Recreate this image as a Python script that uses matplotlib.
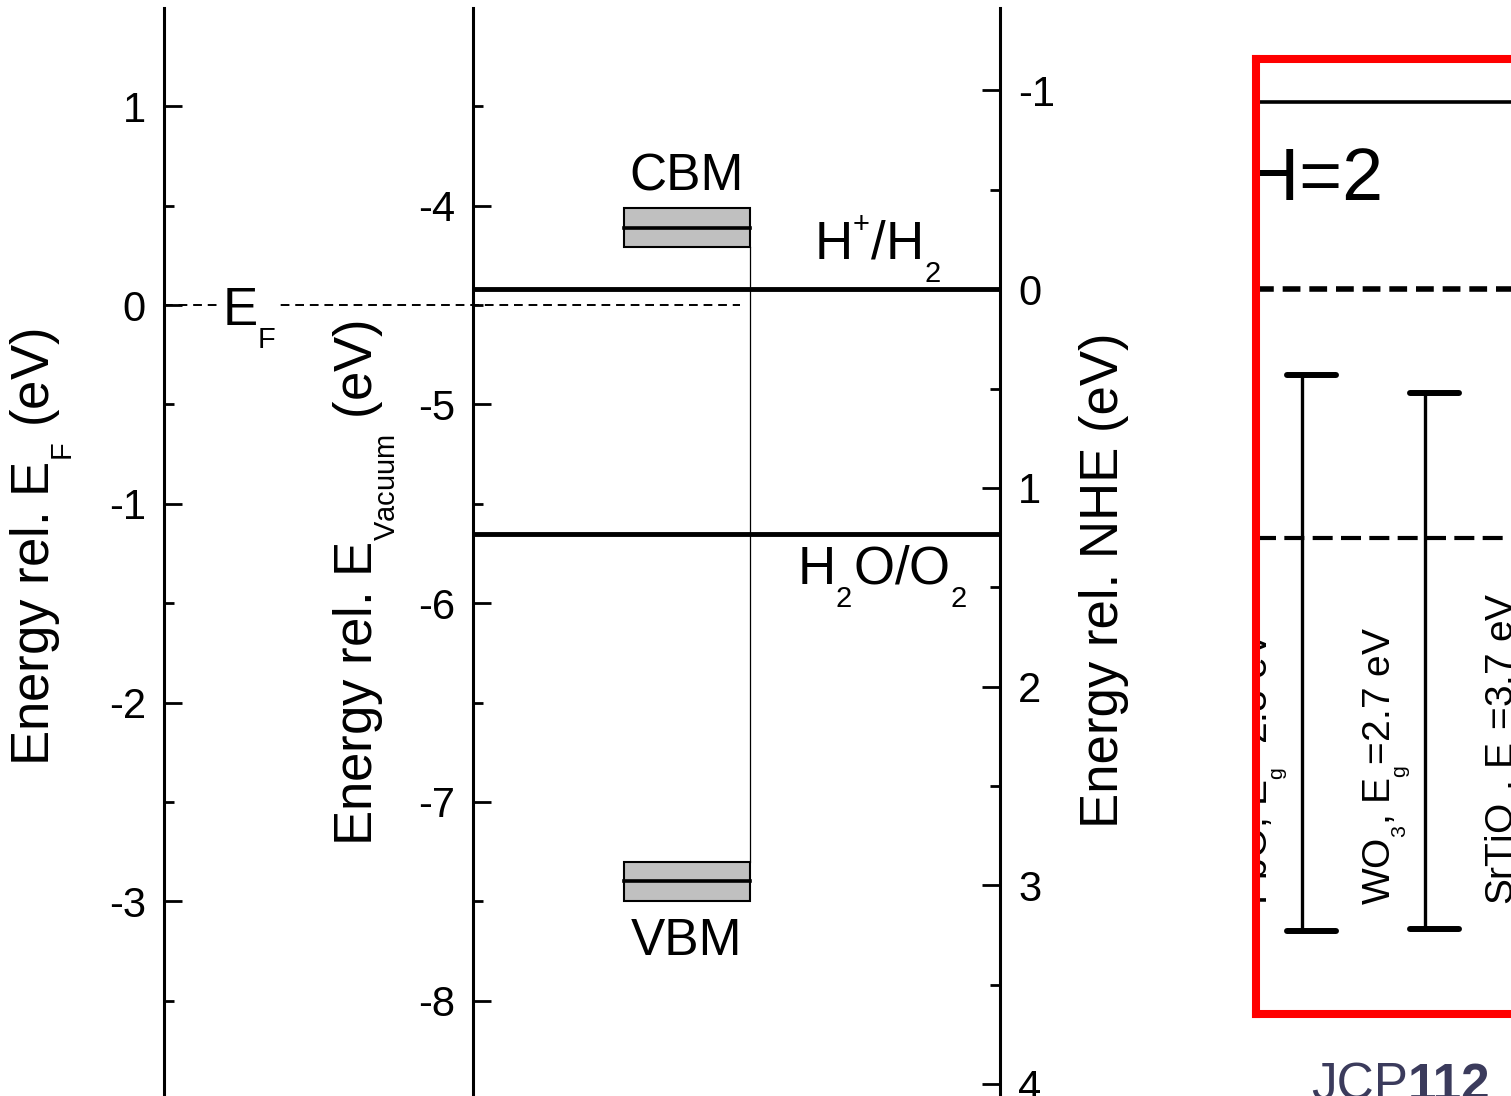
import matplotlib
matplotlib.use("Agg")
import matplotlib.pyplot as plt
import matplotlib._mathtext as mathtext_impl
from matplotlib.patches import Rectangle
from matplotlib.ticker import MultipleLocator

plt.rcParams['font.family'] = ['Liberation Sans', 'DejaVu Sans']
plt.rcParams['mathtext.fontset'] = 'custom'
plt.rcParams['mathtext.rm'] = 'Liberation Sans'
plt.rcParams['axes.unicode_minus'] = False

# smaller, lower subscripts (Origin style)
mathtext_impl.SHRINK_FACTOR = 0.55
mathtext_impl.FontConstantsBase.sub1 = 0.8
mathtext_impl.FontConstantsBase.sup1 = 0.9

# band edges relative to E_F (eV) and the spread drawn around them
cbm = 0.39
vbm = -2.90
band_spread = 0.10

# reference scales
fermi_vs_vacuum = -4.5   # E_F on the vacuum scale
nhe_vs_vacuum = -4.42    # 0 V NHE on the vacuum scale
redox_levels = [0.0, 1.23]   # vs NHE
redox_labels = ['H$^\\mathregular{+}$/H$_\\mathregular{2}$',
                'H$_\\mathregular{2}$O/O$_\\mathregular{2}$']

# energy window of the E_F axis
ef_range = (-3.98, 1.495)

# inset: literature band positions vs NHE
ref_labels = ['PbO, E$_\\mathregular{g}$=2.8 eV',
              'WO$_\\mathregular{3}$, E$_\\mathregular{g}$=2.7 eV',
              'SrTiO$_\\mathregular{3}$, E$_\\mathregular{g}$=3.7 eV']
ref_cb = [0.43, 0.52]
ref_gap = [2.8, 2.7]
inset_levels = [-0.94, 0.0, 1.25]

W, H = 1511, 1096
fig = plt.figure(figsize=(W / 100, H / 100), dpi=100)


def px_box(x0, y0, x1, y1):
    return [x0 / W, 1 - y1 / H, (x1 - x0) / W, (y1 - y0) / H]


# layout of the main diagram (fractions of the axes width)
X_VAC = 0.370
BOX_L, BOX_R = 0.550, 0.701
EF_END = 0.689

ax = fig.add_axes(px_box(164, 8, 1000, 1096))
ax.set_xlim(0, 1)
ax.set_ylim(ef_range)
ax.set_xticks([])
for s in ['top', 'bottom', 'right']:
    ax.spines[s].set_visible(False)

vac_range = (ef_range[0] + fermi_vs_vacuum, ef_range[1] + fermi_vs_vacuum)
nhe_range = (nhe_vs_vacuum - vac_range[0], nhe_vs_vacuum - vac_range[1])

ax_vac = ax.twinx()
ax_vac.set_ylim(vac_range)
ax_vac.yaxis.tick_left()
ax_vac.spines['left'].set_position(('axes', X_VAC))
for s in ['top', 'bottom', 'right']:
    ax_vac.spines[s].set_visible(False)

ax_nhe = ax.twinx()
ax_nhe.set_ylim(nhe_range)
for s in ['top', 'bottom', 'left']:
    ax_nhe.spines[s].set_visible(False)

for a in (ax, ax_vac, ax_nhe):
    a.yaxis.set_major_locator(MultipleLocator(1))
    a.yaxis.set_minor_locator(MultipleLocator(0.5))
    a.tick_params(axis='y', which='major', direction='in', length=13,
                  width=2, labelsize=30, pad=13)
    a.tick_params(axis='y', which='minor', direction='in', length=7, width=2)
    for sp in a.spines.values():
        sp.set_linewidth(2.2)

# Fermi level
ax.plot([0, EF_END], [0, 0], color='k', lw=1.4, dashes=(4.5, 3.0))
ax.text(0.069, -0.104, 'E$_\\mathregular{F}$', fontsize=38, ha='left',
        va='baseline', bbox=dict(fc='white', ec='none', pad=0), zorder=4)

# band edges
for e in (cbm, vbm):
    ax.add_patch(Rectangle((BOX_L, e - band_spread), BOX_R - BOX_L,
                           2 * band_spread, fc='#c0c0c0', ec='k', lw=1.5,
                           zorder=3))
    ax.plot([BOX_L, BOX_R], [e, e], color='k', lw=2.6, zorder=4)
ax.plot([BOX_R, BOX_R], [vbm + band_spread, cbm - band_spread],
        color='k', lw=0.9)
box_mid = (BOX_L + BOX_R) / 2
ax.text(box_mid, cbm + 0.186, 'CBM', fontsize=37, ha='center', va='baseline')
ax.text(box_mid, vbm - 0.37, 'VBM', fontsize=37, ha='center', va='baseline')

# water redox levels
ax_nhe.hlines(redox_levels, X_VAC, 1, color='k', lw=3.5)
ax_nhe.text(0.778, redox_levels[0] - 0.146, redox_labels[0], fontsize=38,
            ha='left', va='baseline')
ax_nhe.text(0.757, redox_levels[1] + 0.26, redox_labels[1], fontsize=38,
            ha='left', va='baseline')

# axis titles
fig.text(42 / W, 1 - 547 / H, 'Energy rel. E$_\\mathregular{F}$ (eV)',
         rotation=90, fontsize=38, ha='center', va='center')
fig.text(364 / W, 1 - 583 / H,
         'Energy rel. E$_\\mathregular{Vacuum}$ (eV)',
         rotation=90, fontsize=38, ha='center', va='center')
fig.text(1104 / W, 1 - 580 / H, 'Energy rel. NHE (eV)',
         rotation=90, fontsize=38, ha='center', va='center')


# inset on the same NHE scale
def nhe_at(py):
    return nhe_range[1] + (py - 8) / (1096 - 8) * (nhe_range[0] - nhe_range[1])


axi = fig.add_axes(px_box(1256, 59, 1700, 1014))
axi.set_xlim(0.626, 4.236)
axi.set_ylim(nhe_at(1014), nhe_at(59))
axi.set_xticks([])
axi.set_yticks([])
for sp in axi.spines.values():
    sp.set_color('#ff0000')
    sp.set_linewidth(5.8)

axi.axhline(inset_levels[0], color='k', lw=2.6)
axi.axhline(inset_levels[1], color='k', lw=4, dashes=(3.2, 1.6))
axi.axhline(inset_levels[2], color='k', lw=3, dashes=(4.8, 2.0))

for i, (cb, eg) in enumerate(zip(ref_cb, ref_gap)):
    x = i + 1
    axi.plot([x, x], [cb, cb + eg], color='k', lw=2.4)
    for e in (cb, cb + eg):
        axi.plot([x - 0.12, x + 0.28], [e, e], color='k', lw=4.3,
                 solid_capstyle='round')

for i, lab in enumerate(ref_labels):
    axi.text(i + 1 - 0.28, 3.1, lab, rotation=90, rotation_mode='anchor',
             ha='left', va='baseline', fontsize=28, clip_on=True, zorder=2)

axi.text(1.659, -0.45, 'pH=2', fontsize=53, ha='right', va='baseline',
         clip_on=True, zorder=2)

fig.text(1408 / W, 1 - 1100 / H, 'JCP', fontsize=37, color='#3b3b5c',
         ha='right', va='baseline')
fig.text(1408 / W, 1 - 1100 / H, '112', fontsize=37, color='#3b3b5c',
         fontweight='bold', ha='left', va='baseline')

fig.savefig('out.png', dpi=100)
